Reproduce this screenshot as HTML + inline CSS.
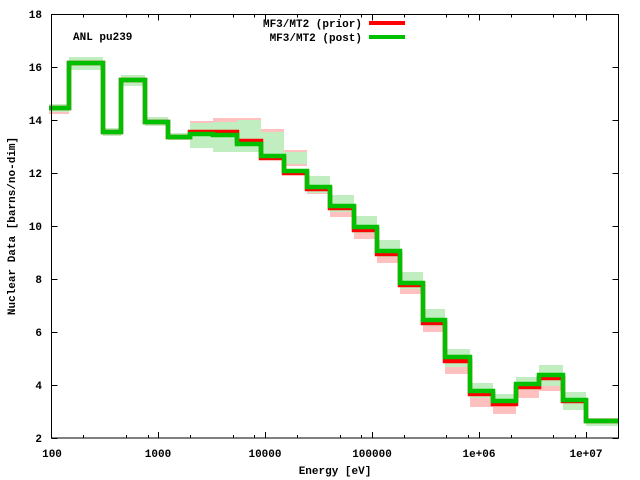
<!DOCTYPE html>
<html><head><style>body{margin:0;background:#fff}svg{display:block}text{font-family:"Liberation Mono",monospace;font-weight:bold;font-size:11px;fill:#000}</style></head><body>
<svg width="640" height="480" xmlns="http://www.w3.org/2000/svg">
<g fill="#ffc0c0">
<rect x="49" y="106" width="20" height="8"/>
<rect x="69" y="59" width="34" height="9"/>
<rect x="103" y="130" width="18" height="5"/>
<rect x="121" y="77" width="24" height="7"/>
<rect x="145" y="119" width="23" height="5"/>
<rect x="168" y="134" width="22" height="5"/>
<rect x="190" y="121" width="23" height="19"/>
<rect x="213" y="118" width="24" height="28"/>
<rect x="237" y="118" width="24" height="32"/>
<rect x="261" y="129" width="23" height="31"/>
<rect x="284" y="150" width="23" height="16"/>
<rect x="307" y="183" width="23" height="11"/>
<rect x="330" y="205" width="24" height="12"/>
<rect x="354" y="227" width="23" height="12"/>
<rect x="377" y="251" width="23" height="12"/>
<rect x="400" y="282" width="23" height="12"/>
<rect x="423" y="320" width="22" height="12"/>
<rect x="445" y="360" width="25" height="14"/>
<rect x="470" y="383" width="23" height="24"/>
<rect x="493" y="394" width="23" height="20"/>
<rect x="516" y="377" width="23" height="21"/>
<rect x="539" y="365" width="24" height="26"/>
<rect x="563" y="398" width="23" height="12"/>
<rect x="586" y="419" width="32" height="5"/>
</g>
<g fill="#c0eec0">
<rect x="49" y="104" width="20" height="8"/>
<rect x="69" y="57" width="34" height="13"/>
<rect x="103" y="128" width="18" height="8"/>
<rect x="121" y="75" width="24" height="11"/>
<rect x="145" y="117" width="23" height="9"/>
<rect x="168" y="133" width="22" height="7"/>
<rect x="190" y="123" width="23" height="25"/>
<rect x="213" y="122" width="24" height="30"/>
<rect x="237" y="120" width="24" height="32"/>
<rect x="261" y="132" width="23" height="25"/>
<rect x="284" y="152" width="23" height="12"/>
<rect x="307" y="176" width="23" height="17"/>
<rect x="330" y="195" width="24" height="17"/>
<rect x="354" y="216" width="23" height="17"/>
<rect x="377" y="240" width="23" height="17"/>
<rect x="400" y="272" width="23" height="17"/>
<rect x="423" y="309" width="22" height="17"/>
<rect x="445" y="349" width="25" height="18"/>
<rect x="470" y="383" width="23" height="15"/>
<rect x="493" y="394" width="23" height="11"/>
<rect x="516" y="377" width="23" height="13"/>
<rect x="539" y="365" width="24" height="21"/>
<rect x="563" y="392" width="23" height="18"/>
<rect x="586" y="418" width="32" height="8"/>
</g>
<path fill="none" stroke="#f00" stroke-width="4.5" d="M49,108 H69 V63 H103 V132 H121 V80 H145 V122 H168 V137 H190 V132 H213 V132 H237 V141 H261 V158 H284 V173 H307 V189 H330 V208 H354 V230 H377 V254 H400 V285 H423 V323 H445 V361 H470 V394 H493 V404 H516 V387 H539 V378 H563 V401 H586 V421 H618"/>
<path fill="none" stroke="#00c000" stroke-width="4.5" d="M49,108 H69 V63 H103 V132 H121 V80 H145 V122 H168 V137 H190 V134 H213 V135 H237 V144 H261 V156 H284 V171 H307 V187 H330 V206 H354 V227 H377 V251 H400 V283 H423 V320 H445 V357 H470 V391 H493 V401 H516 V384 H539 V375 H563 V400 H586 V421 H618"/>
<g stroke="#000" stroke-width="1">
<path d="M51.5,438.5h6M612.5,438.5h6M51.5,385.5h6M612.5,385.5h6M51.5,332.5h6M612.5,332.5h6M51.5,279.5h6M612.5,279.5h6M51.5,226.5h6M612.5,226.5h6M51.5,173.5h6M612.5,173.5h6M51.5,120.5h6M612.5,120.5h6M51.5,67.5h6M612.5,67.5h6"/>
<path d="M158.5,438v-6M158.5,14.5v6M265.5,438v-6M265.5,14.5v6M372.5,438v-6M372.5,14.5v6M479.5,438v-6M479.5,14.5v6M586.5,438v-6M586.5,14.5v6"/>
<path d="M83.5,438v-3M126.5,438v-3M148.5,438v-3M190.5,438v-3M233.5,438v-3M254.5,438v-3M297.5,438v-3M340.5,438v-3M361.5,438v-3M404.5,438v-3M446.5,438v-3M468.5,438v-3M511.5,438v-3M553.5,438v-3M575.5,438v-3"/>
<path d="M83.5,14.5v3M126.5,14.5v3M148.5,14.5v3M190.5,14.5v3M233.5,14.5v3M254.5,14.5v3M297.5,14.5v3M340.5,14.5v3M361.5,14.5v3M404.5,14.5v3M446.5,14.5v3M468.5,14.5v3M511.5,14.5v3M553.5,14.5v3M575.5,14.5v3"/>
</g>
<rect x="51.5" y="14.5" width="567" height="423.5" fill="none" stroke="#000"/>
<g text-anchor="end">
<text x="42" y="442">2</text><text x="42" y="389">4</text><text x="42" y="336">6</text><text x="42" y="283">8</text><text x="42" y="230">10</text><text x="42" y="177">12</text><text x="42" y="124">14</text><text x="42" y="71">16</text><text x="42" y="18">18</text>
</g>
<g text-anchor="middle">
<text x="52" y="457">100</text><text x="158" y="457">1000</text><text x="265" y="457">10000</text><text x="372" y="457">100000</text><text x="479" y="457">1e+06</text><text x="586" y="457">1e+07</text>
</g>
<text x="73" y="40">ANL pu239</text>
<text x="362" y="27" text-anchor="end">MF3/MT2 (prior)</text>
<line x1="369" y1="23" x2="405" y2="23" stroke="#f00" stroke-width="4"/>
<text x="362" y="41" text-anchor="end">MF3/MT2 (post)</text>
<line x1="369" y1="37" x2="405" y2="37" stroke="#00c000" stroke-width="4"/>
<text x="335" y="474" text-anchor="middle">Energy [eV]</text>
<text transform="translate(15,226) rotate(-90)" text-anchor="middle">Nuclear Data [barns/no-dim]</text>
</svg>
</body></html>
